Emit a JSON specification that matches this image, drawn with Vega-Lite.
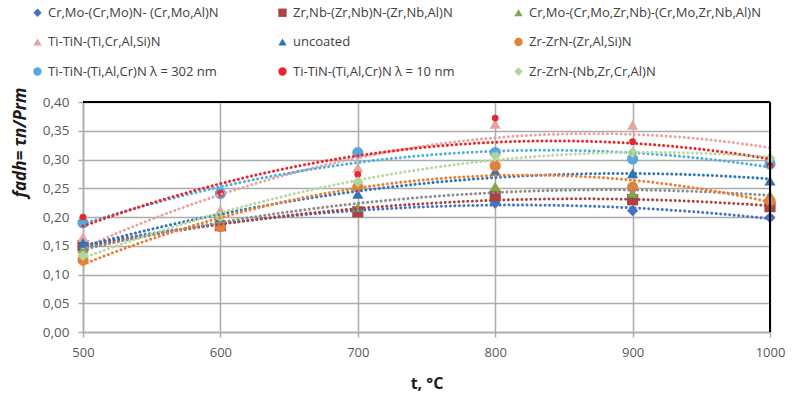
{
  "$schema": "https://vega.github.io/schema/vega-lite/v6.json",
  "width": 687,
  "height": 230,
  "autosize": {"type": "none"},
  "padding": {"left": 83, "top": 102, "right": 22, "bottom": 64},
  "background": "white",
  "config": {
    "font": "Open Sans",
    "view": {"stroke": null},
    "axis": {"labelFont": "Open Sans", "titleFont": "Open Sans", "labelColor": "#595959", "titleColor": "#1a1a1a"},
    "legend": {"labelFont": "Open Sans"}
  },
  "data": {
    "values": [
      {"series": "Cr,Mo-(Cr,Mo)N- (Cr,Mo,Al)N", "t": 500, "value": 0.150},
      {"series": "Cr,Mo-(Cr,Mo)N- (Cr,Mo,Al)N", "t": 600, "value": 0.190},
      {"series": "Cr,Mo-(Cr,Mo)N- (Cr,Mo,Al)N", "t": 700, "value": 0.210},
      {"series": "Cr,Mo-(Cr,Mo)N- (Cr,Mo,Al)N", "t": 800, "value": 0.224},
      {"series": "Cr,Mo-(Cr,Mo)N- (Cr,Mo,Al)N", "t": 900, "value": 0.211},
      {"series": "Cr,Mo-(Cr,Mo)N- (Cr,Mo,Al)N", "t": 1000, "value": 0.199},
      {"series": "Zr,Nb-(Zr,Nb)N-(Zr,Nb,Al)N", "t": 500, "value": 0.150},
      {"series": "Zr,Nb-(Zr,Nb)N-(Zr,Nb,Al)N", "t": 600, "value": 0.185},
      {"series": "Zr,Nb-(Zr,Nb)N-(Zr,Nb,Al)N", "t": 700, "value": 0.209},
      {"series": "Zr,Nb-(Zr,Nb)N-(Zr,Nb,Al)N", "t": 800, "value": 0.237},
      {"series": "Zr,Nb-(Zr,Nb)N-(Zr,Nb,Al)N", "t": 900, "value": 0.230},
      {"series": "Zr,Nb-(Zr,Nb)N-(Zr,Nb,Al)N", "t": 1000, "value": 0.218},
      {"series": "Cr,Mo-(Cr,Mo,Zr,Nb)-(Cr,Mo,Zr,Nb,Al)N", "t": 500, "value": 0.145},
      {"series": "Cr,Mo-(Cr,Mo,Zr,Nb)-(Cr,Mo,Zr,Nb,Al)N", "t": 600, "value": 0.190},
      {"series": "Cr,Mo-(Cr,Mo,Zr,Nb)-(Cr,Mo,Zr,Nb,Al)N", "t": 700, "value": 0.217},
      {"series": "Cr,Mo-(Cr,Mo,Zr,Nb)-(Cr,Mo,Zr,Nb,Al)N", "t": 800, "value": 0.253},
      {"series": "Cr,Mo-(Cr,Mo,Zr,Nb)-(Cr,Mo,Zr,Nb,Al)N", "t": 900, "value": 0.242},
      {"series": "Cr,Mo-(Cr,Mo,Zr,Nb)-(Cr,Mo,Zr,Nb,Al)N", "t": 1000, "value": 0.238},
      {"series": "Ti-TiN-(Ti,Cr,Al,Si)N", "t": 500, "value": 0.165},
      {"series": "Ti-TiN-(Ti,Cr,Al,Si)N", "t": 600, "value": 0.212},
      {"series": "Ti-TiN-(Ti,Cr,Al,Si)N", "t": 700, "value": 0.286},
      {"series": "Ti-TiN-(Ti,Cr,Al,Si)N", "t": 800, "value": 0.362},
      {"series": "Ti-TiN-(Ti,Cr,Al,Si)N", "t": 900, "value": 0.360},
      {"series": "Ti-TiN-(Ti,Cr,Al,Si)N", "t": 1000, "value": 0.305},
      {"series": "uncoated", "t": 500, "value": 0.155},
      {"series": "uncoated", "t": 600, "value": 0.195},
      {"series": "uncoated", "t": 700, "value": 0.240},
      {"series": "uncoated", "t": 800, "value": 0.280},
      {"series": "uncoated", "t": 900, "value": 0.276},
      {"series": "uncoated", "t": 1000, "value": 0.263},
      {"series": "Zr-ZrN-(Zr,Al,Si)N", "t": 500, "value": 0.125},
      {"series": "Zr-ZrN-(Zr,Al,Si)N", "t": 600, "value": 0.183},
      {"series": "Zr-ZrN-(Zr,Al,Si)N", "t": 700, "value": 0.252},
      {"series": "Zr-ZrN-(Zr,Al,Si)N", "t": 800, "value": 0.289},
      {"series": "Zr-ZrN-(Zr,Al,Si)N", "t": 900, "value": 0.252},
      {"series": "Zr-ZrN-(Zr,Al,Si)N", "t": 1000, "value": 0.228},
      {"series": "Ti-TiN-(Ti,Al,Cr)N λ = 302 nm", "t": 500, "value": 0.190},
      {"series": "Ti-TiN-(Ti,Al,Cr)N λ = 302 nm", "t": 600, "value": 0.241},
      {"series": "Ti-TiN-(Ti,Al,Cr)N λ = 302 nm", "t": 700, "value": 0.312},
      {"series": "Ti-TiN-(Ti,Al,Cr)N λ = 302 nm", "t": 800, "value": 0.312},
      {"series": "Ti-TiN-(Ti,Al,Cr)N λ = 302 nm", "t": 900, "value": 0.301},
      {"series": "Ti-TiN-(Ti,Al,Cr)N λ = 302 nm", "t": 1000, "value": 0.292},
      {"series": "Ti-TiN-(Ti,Al,Cr)N λ = 10 nm", "t": 500, "value": 0.200},
      {"series": "Ti-TiN-(Ti,Al,Cr)N λ = 10 nm", "t": 600, "value": 0.241},
      {"series": "Ti-TiN-(Ti,Al,Cr)N λ = 10 nm", "t": 700, "value": 0.274},
      {"series": "Ti-TiN-(Ti,Al,Cr)N λ = 10 nm", "t": 800, "value": 0.372},
      {"series": "Ti-TiN-(Ti,Al,Cr)N λ = 10 nm", "t": 900, "value": 0.331},
      {"series": "Ti-TiN-(Ti,Al,Cr)N λ = 10 nm", "t": 1000, "value": 0.290},
      {"series": "Zr-ZrN-(Nb,Zr,Cr,Al)N", "t": 500, "value": 0.133},
      {"series": "Zr-ZrN-(Nb,Zr,Cr,Al)N", "t": 600, "value": 0.200},
      {"series": "Zr-ZrN-(Nb,Zr,Cr,Al)N", "t": 700, "value": 0.261},
      {"series": "Zr-ZrN-(Nb,Zr,Cr,Al)N", "t": 800, "value": 0.307},
      {"series": "Zr-ZrN-(Nb,Zr,Cr,Al)N", "t": 900, "value": 0.312},
      {"series": "Zr-ZrN-(Nb,Zr,Cr,Al)N", "t": 1000, "value": 0.302}
    ]
  },
  "layer": [
    {
      "mark": {"type": "point", "filled": true, "opacity": 1},
      "encoding": {
        "x": {
          "field": "t", "type": "quantitative",
          "scale": {"domain": [500, 1000], "nice": false, "zero": false},
          "axis": {
            "values": [500, 600, 700, 800, 900, 1000], "format": "d",
            "labelFlush": false, "labelOverlap": false,
            "title": "t, °C", "titleFontSize": 16, "titleFontWeight": "bold", "titlePadding": 16,
            "labelFontSize": 13, "labelPadding": 9, "tickSize": 5,
            "grid": true, "gridColor": "#ABABAB", "gridWidth": 1.5,
            "domainColor": "#ABABAB", "domainWidth": 1.5, "tickColor": "#ABABAB", "tickWidth": 1.5
          }
        },
        "y": {
          "field": "value", "type": "quantitative",
          "scale": {"domain": [0, 0.4], "nice": false},
          "axis": {
            "tickCount": 8,
            "labelExpr": "replace(format(datum.value, '.2f'), '.', ',')",
            "labelFlush": false, "labelOverlap": false,
            "labelFontSize": 13.5, "labelPadding": 9, "tickSize": 5,
            "grid": true, "gridColor": "#ABABAB", "gridWidth": 1.5,
            "domainColor": "#ABABAB", "domainWidth": 1.5, "tickColor": "#ABABAB", "tickWidth": 1.5,
            "title": "fadh= τn/Prm", "titleFontStyle": "italic", "titleFontWeight": "bold", "titleFontSize": 17,
            "titleAngle": -90, "titleX": -63, "titleY": 40, "titleAlign": "center", "titleBaseline": "middle"
          }
        },
        "shape": {
          "field": "series", "type": "nominal",
          "scale": {
            "domain": ["Cr,Mo-(Cr,Mo)N- (Cr,Mo,Al)N", "Zr,Nb-(Zr,Nb)N-(Zr,Nb,Al)N", "Cr,Mo-(Cr,Mo,Zr,Nb)-(Cr,Mo,Zr,Nb,Al)N", "Ti-TiN-(Ti,Cr,Al,Si)N", "uncoated", "Zr-ZrN-(Zr,Al,Si)N", "Ti-TiN-(Ti,Al,Cr)N λ = 302 nm", "Ti-TiN-(Ti,Al,Cr)N λ = 10 nm", "Zr-ZrN-(Nb,Zr,Cr,Al)N"],
            "range": ["diamond", "square", "triangle-up", "triangle-up", "triangle-up", "circle", "circle", "circle", "diamond"]
          },
          "legend": {
            "orient": "none", "legendX": -52, "legendY": -96, "direction": "horizontal",
            "columns": 3, "gridAlign": "each", "columnPadding": 57, "rowPadding": 15.5,
            "title": null, "labelFontSize": 13, "labelColor": "#404040", "labelLimit": 400,
            "symbolSize": 70, "symbolStrokeWidth": 0, "labelOffset": 4
          }
        },
        "color": {
          "field": "series", "type": "nominal",
          "scale": {
            "domain": ["Cr,Mo-(Cr,Mo)N- (Cr,Mo,Al)N", "Zr,Nb-(Zr,Nb)N-(Zr,Nb,Al)N", "Cr,Mo-(Cr,Mo,Zr,Nb)-(Cr,Mo,Zr,Nb,Al)N", "Ti-TiN-(Ti,Cr,Al,Si)N", "uncoated", "Zr-ZrN-(Zr,Al,Si)N", "Ti-TiN-(Ti,Al,Cr)N λ = 302 nm", "Ti-TiN-(Ti,Al,Cr)N λ = 10 nm", "Zr-ZrN-(Nb,Zr,Cr,Al)N"],
            "range": ["#4472C4", "#A94442", "#7FA84A", "#E6A3A3", "#2E75B6", "#E0823A", "#5AA5DB", "#E8262A", "#B3D499"]
          },
          "legend": {
            "orient": "none", "legendX": -52, "legendY": -96, "direction": "horizontal",
            "columns": 3, "gridAlign": "each", "columnPadding": 57, "rowPadding": 15.5,
            "title": null, "labelFontSize": 13, "labelColor": "#404040", "labelLimit": 400,
            "symbolSize": 70, "symbolStrokeWidth": 0, "labelOffset": 4
          }
        },
        "size": {
          "condition": {"test": "datum.series == 'Ti-TiN-(Ti,Al,Cr)N λ = 10 nm'", "value": 45},
          "value": 125
        }
      }
    },
    {
      "transform": [
        {"regression": "value", "on": "t", "groupby": ["series"], "method": "poly", "order": 2, "extent": [500, 1000]}
      ],
      "mark": {"type": "line", "strokeDash": [0.01, 4.5], "strokeCap": "round", "strokeWidth": 3},
      "encoding": {
        "x": {"field": "t", "type": "quantitative"},
        "y": {"field": "value", "type": "quantitative"},
        "detail": {"field": "series", "type": "nominal"},
        "stroke": {
          "field": "series", "type": "nominal",
          "scale": {
            "domain": ["Cr,Mo-(Cr,Mo)N- (Cr,Mo,Al)N", "Zr,Nb-(Zr,Nb)N-(Zr,Nb,Al)N", "Cr,Mo-(Cr,Mo,Zr,Nb)-(Cr,Mo,Zr,Nb,Al)N", "Ti-TiN-(Ti,Cr,Al,Si)N", "uncoated", "Zr-ZrN-(Zr,Al,Si)N", "Ti-TiN-(Ti,Al,Cr)N λ = 302 nm", "Ti-TiN-(Ti,Al,Cr)N λ = 10 nm", "Zr-ZrN-(Nb,Zr,Cr,Al)N"],
            "range": ["#4472C4", "#A94442", "#8C8C8C", "#E6A3A3", "#2E75B6", "#ED7D31", "#4FAEE0", "#E8262A", "#B8D89E"]
          },
          "legend": null
        }
      }
    },
    {
      "mark": {"type": "rule", "color": "#000000", "strokeWidth": 1.5},
      "encoding": {"y": {"datum": 0.4, "type": "quantitative"}}
    },
    {
      "mark": {"type": "rule", "color": "#000000", "strokeWidth": 1.5},
      "encoding": {"x": {"datum": 1000, "type": "quantitative"}}
    }
  ]
}
